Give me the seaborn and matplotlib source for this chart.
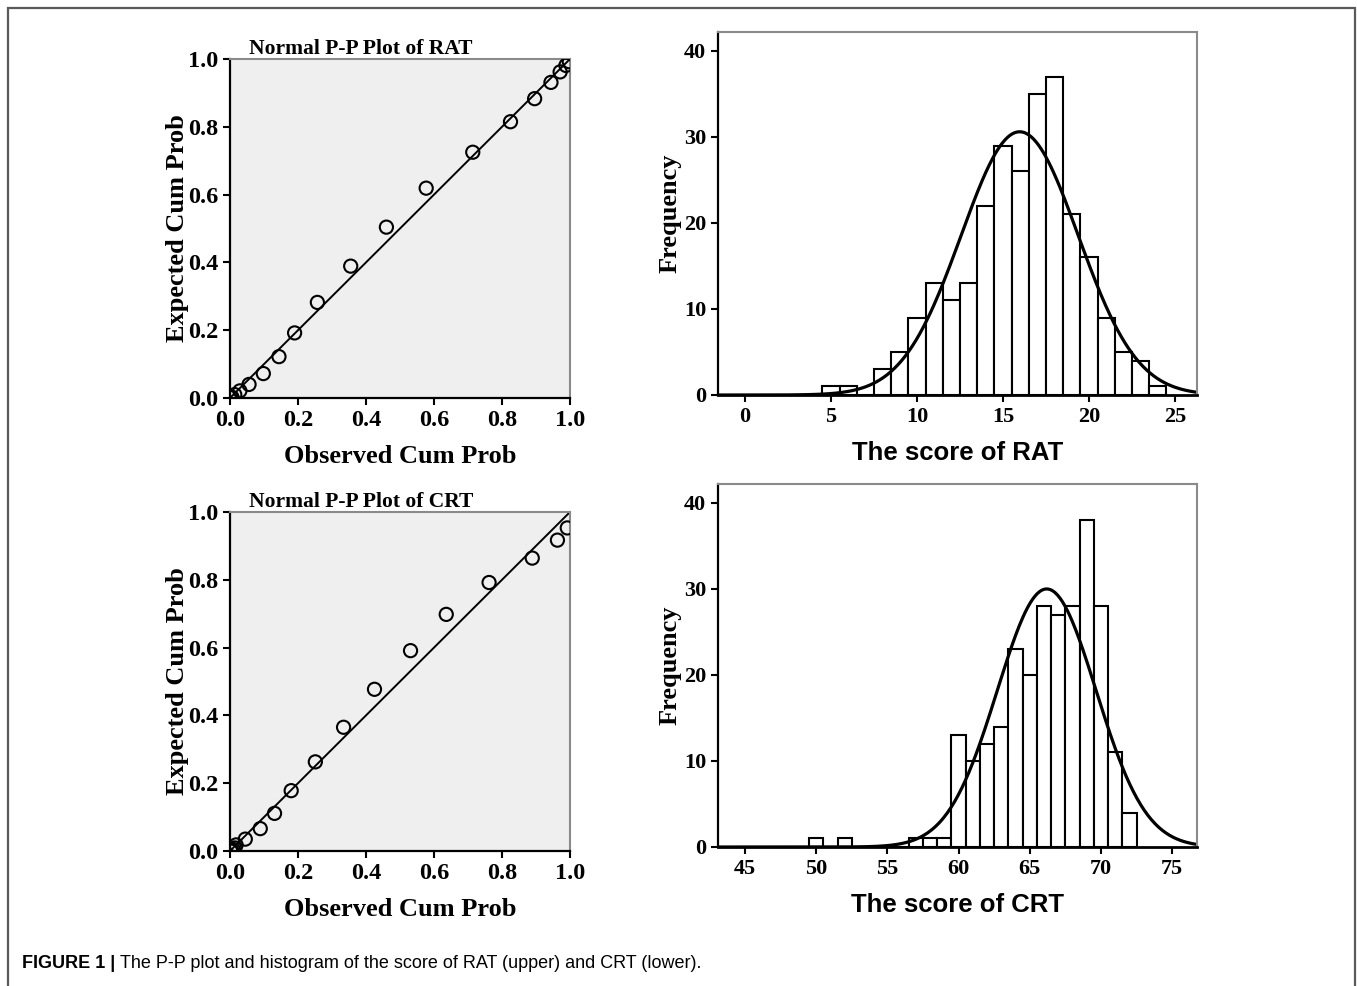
import numpy as np
import pandas as pd
import matplotlib
matplotlib.use("Agg")
import matplotlib.pyplot as plt
import seaborn as sns
from matplotlib.patches import Rectangle

# ---- data -------------------------------------------------------------
# Score distributions (score value -> number of participants)
rat_scores = [5, 6, 8, 9, 10, 11, 12, 13, 14, 15, 16, 17, 18, 19, 20, 21, 22, 23, 24]
rat_counts = [1, 1, 3, 5, 9, 13, 11, 13, 22, 29, 26, 35, 37, 21, 16, 9, 5, 4, 1]

crt_scores = [50, 52, 57, 58, 59, 60, 61, 62, 63, 64, 65, 66, 67, 68, 69, 70, 71, 72]
crt_counts = [1, 1, 1, 1, 1, 13, 10, 12, 14, 23, 20, 28, 27, 28, 38, 28, 11, 4]

# Normal P-P plot points (observed vs expected cumulative probability)
rat_observed = [0.002, 0.006, 0.014, 0.029, 0.056, 0.098, 0.144, 0.190, 0.257, 0.355,
                0.460, 0.577, 0.714, 0.825, 0.896, 0.944, 0.971, 0.988, 0.998]
rat_expected = [0.001, 0.002, 0.010, 0.021, 0.040, 0.072, 0.122, 0.192, 0.282, 0.389,
                0.504, 0.619, 0.725, 0.815, 0.883, 0.931, 0.962, 0.981, 0.992]

crt_observed = [0.002, 0.006, 0.010, 0.014, 0.018, 0.045, 0.089, 0.131, 0.180, 0.251,
                0.334, 0.425, 0.531, 0.636, 0.762, 0.889, 0.963, 0.992]
crt_expected = [0.000, 0.000, 0.004, 0.009, 0.018, 0.035, 0.066, 0.111, 0.178, 0.263,
                0.365, 0.477, 0.591, 0.698, 0.792, 0.864, 0.917, 0.953]

pp_ticks = [0.0, 0.2, 0.4, 0.6, 0.8, 1.0]
pp_ticklabels = ["0.0", "0.2", "0.4", "0.6", "0.8", "1.0"]
freq_ticks = [0, 10, 20, 30, 40]
rat_xticks = [0, 5, 10, 15, 20, 25]
crt_xticks = [45, 50, 55, 60, 65, 70, 75]

# ---- style ------------------------------------------------------------
sns.set_style("white")
plt.rcParams["font.family"] = ["Liberation Serif", "DejaVu Serif"]
plt.rcParams["font.weight"] = "bold"
plt.rcParams["axes.labelweight"] = "bold"
for key in ("text.color", "axes.labelcolor", "xtick.color", "ytick.color"):
    plt.rcParams[key] = "black"

W, H = 1357, 986
fig = plt.figure(figsize=(W / 100, H / 100), dpi=100)
fig.patch.set_facecolor("white")


def fig_axes(left, top, right, bottom):
    return fig.add_axes([left / W, 1 - bottom / H, (right - left) / W, (bottom - top) / H])


FRAME_GRAY = "#8a8a8a"


def style_frame(ax):
    for side in ("left", "bottom"):
        ax.spines[side].set_color("black")
        ax.spines[side].set_linewidth(1.6)
    for side in ("top", "right"):
        ax.spines[side].set_color(FRAME_GRAY)
        ax.spines[side].set_linewidth(1.5)
    ax.tick_params(axis="both", direction="out", length=5, width=1.5,
                   colors="black", bottom=True, left=True)


def pp_plot(ax, observed, expected, name):
    ax.set_facecolor("#efefef")
    sns.lineplot(x=[0, 1], y=[0, 1], color="black", linewidth=1.4, ax=ax)
    sns.scatterplot(x=observed, y=expected, marker="o", s=90, facecolor="none",
                    edgecolor="black", linewidth=1.5, ax=ax, zorder=3)
    ax.set_xlim(0, 1)
    ax.set_ylim(0, 1)
    ax.set_xticks(pp_ticks)
    ax.set_xticklabels(pp_ticklabels)
    ax.set_yticks(pp_ticks)
    ax.set_yticklabels(pp_ticklabels)
    ax.tick_params(labelsize=17.5)
    ax.set_xlabel("Observed Cum Prob", fontsize=19, labelpad=10)
    ax.set_ylabel("Expected Cum Prob", fontsize=19, labelpad=-1)
    ax.text(0.056, 0.999, f"Normal P-P Plot of {name}", transform=ax.transAxes,
            ha="left", va="bottom", fontsize=15.5, fontweight="bold")
    style_frame(ax)


def histogram(ax, scores, counts, xlim, xticks, name):
    sns.histplot(x=scores, weights=counts, discrete=True, color="white",
                 edgecolor="black", linewidth=1.5, alpha=1, ax=ax)
    # fitted normal curve scaled to the counts (bin width 1)
    s = np.asarray(scores, dtype=float)
    c = np.asarray(counts, dtype=float)
    n = c.sum()
    mean = np.average(s, weights=c)
    sd = np.sqrt(np.sum(c * (s - mean) ** 2) / (n - 1))
    grid = np.linspace(xlim[0], xlim[1], 400)
    curve = pd.DataFrame({
        "x": grid,
        "y": n / (sd * np.sqrt(2 * np.pi)) * np.exp(-0.5 * ((grid - mean) / sd) ** 2),
    })
    sns.lineplot(data=curve, x="x", y="y", color="black", linewidth=2.3, ax=ax)
    ax.set_xlim(*xlim)
    ax.set_ylim(0, 42.2)
    ax.set_xticks(xticks)
    ax.set_yticks(freq_ticks)
    ax.tick_params(labelsize=16)
    ax.set_ylabel("Frequency", fontsize=19, labelpad=2)
    ax.set_xlabel(f"The score of {name}", fontsize=18.5, labelpad=10,
                  fontfamily="Liberation Sans", fontweight="bold")
    style_frame(ax)
    ax.spines["bottom"].set_linewidth(2.0)


ax_pp1 = fig_axes(230, 59, 570, 398)
ax_h1 = fig_axes(718, 32, 1197, 395)
ax_pp2 = fig_axes(230, 512, 570, 851)
ax_h2 = fig_axes(718, 484, 1197, 847)

pp_plot(ax_pp1, rat_observed, rat_expected, "RAT")
pp_plot(ax_pp2, crt_observed, crt_expected, "CRT")
histogram(ax_h1, rat_scores, rat_counts, (-1.57, 26.28), rat_xticks, "RAT")
histogram(ax_h2, crt_scores, crt_counts, (43.1, 76.75), crt_xticks, "CRT")

# outer frame around the figure panel
fig.add_artist(Rectangle((8 / W, -0.02), (1355 - 8) / W, 1 - 8 / H + 0.02,
                         transform=fig.transFigure, fill=False,
                         edgecolor="#5a5a5a", linewidth=1.6))

# caption
cap_family = ["Liberation Sans"]
cap_y = 1 - 968 / H
t1 = fig.text(22 / W, cap_y, "FIGURE 1 |", fontsize=13, fontweight="bold",
              family=cap_family, va="baseline", ha="left")
fig.canvas.draw()
bb = t1.get_window_extent()
fig.text((bb.x1 + 5) / W, cap_y,
         "The P-P plot and histogram of the score of RAT (upper) and CRT (lower).",
         fontsize=13, fontweight="normal", family=cap_family, va="baseline", ha="left")

fig.savefig("out.png", dpi=100, facecolor="white")
